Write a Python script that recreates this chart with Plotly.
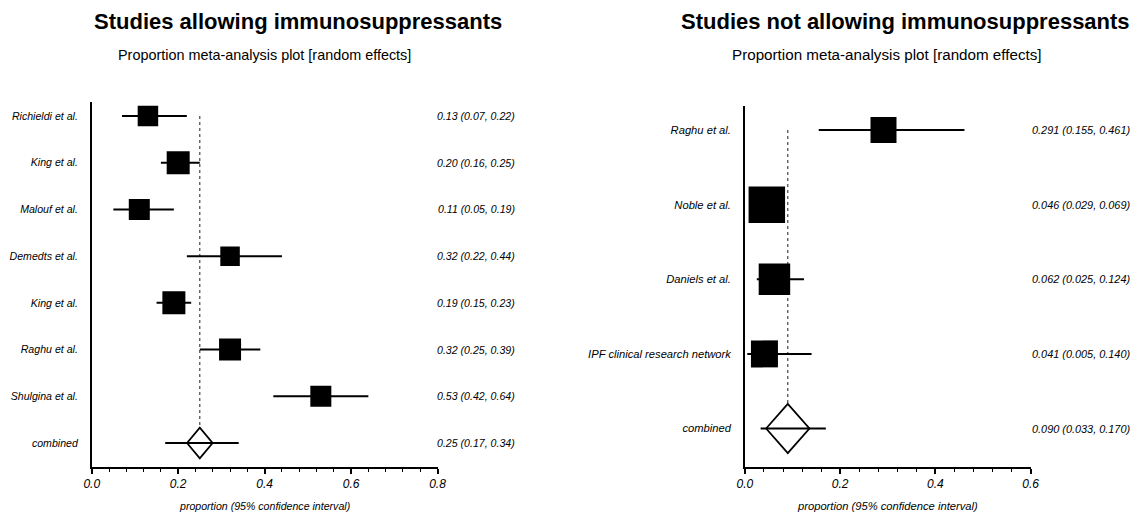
import plotly.graph_objects as go

# ---------------- data ----------------
left_studies = ["Richieldi et al.", "King et al.", "Malouf et al.", "Demedts et al.",
                "King et al.", "Raghu et al.", "Shulgina et al."]
left_prop = [0.13, 0.20, 0.11, 0.32, 0.19, 0.32, 0.53]
left_lo = [0.07, 0.16, 0.05, 0.22, 0.15, 0.25, 0.42]
left_hi = [0.22, 0.25, 0.19, 0.44, 0.23, 0.39, 0.64]
left_combined = [0.25, 0.17, 0.34]

right_studies = ["Raghu et al.", "Noble et al.", "Daniels et al.", "IPF clinical research network"]
right_prop = [0.291, 0.046, 0.062, 0.041]
right_lo = [0.155, 0.029, 0.025, 0.005]
right_hi = [0.461, 0.069, 0.124, 0.140]
right_combined = [0.090, 0.033, 0.170]

left_ticks = [0.0, 0.2, 0.4, 0.6, 0.8]
right_ticks = [0.0, 0.2, 0.4, 0.6]

# ---------------- style ----------------
W, H = 1148, 513
LEFT_BOX_PX = [20.5, 23, 21, 19.5, 23, 22, 21]
RIGHT_BOX_PX = [26, 36.5, 31.5, 27]
SANS = "Liberation Sans, Arial, Helvetica, sans-serif"
DIAMOND_DH = 0.33

fig = go.Figure()


def panel(xa, ya, studies, prop, lo, hi, sizes, comb, hw):
    n = len(studies)
    rows = list(range(1, n + 1))
    crow = n + 1
    # dotted pooled-estimate line
    fig.add_trace(go.Scatter(x=[comb[0], comb[0]], y=[1, crow - DIAMOND_DH], mode="lines",
                             line=dict(color="#333333", width=1.1, dash="dot"),
                             xaxis=xa, yaxis=ya, hoverinfo="skip", showlegend=False))
    # confidence interval lines
    xs, ys = [], []
    for r, l, h in zip(rows, lo, hi):
        xs += [l, h, None]
        ys += [r, r, None]
    xs += [comb[1], comb[2]]
    ys += [crow, crow]
    fig.add_trace(go.Scatter(x=xs, y=ys, mode="lines", line=dict(color="black", width=2),
                             xaxis=xa, yaxis=ya, hoverinfo="skip", showlegend=False))
    # boxes
    fig.add_trace(go.Scatter(x=prop, y=rows, mode="markers",
                             marker=dict(symbol="square", size=sizes, color="black", opacity=1,
                                         line=dict(width=0)),
                             xaxis=xa, yaxis=ya, showlegend=False))
    # diamond
    c = comb[0]
    fig.add_trace(go.Scatter(x=[c - hw, c, c + hw, c, c - hw],
                             y=[crow, crow - DIAMOND_DH, crow, crow + DIAMOND_DH, crow],
                             mode="lines", line=dict(color="black", width=1.8),
                             xaxis=xa, yaxis=ya, hoverinfo="skip", showlegend=False))
    return rows + [crow]


lrows = panel("x", "y", left_studies, left_prop, left_lo, left_hi, LEFT_BOX_PX, left_combined, 0.0296)
rrows = panel("x2", "y2", right_studies, right_prop, right_lo, right_hi, RIGHT_BOX_PX, right_combined, 0.0455)

ann = []
# value labels
for r, p, l, h in zip(lrows, left_prop + [left_combined[0]], left_lo + [left_combined[1]],
                      left_hi + [left_combined[2]]):
    ann.append(dict(x=517 / W, xref="paper", y=r, yref="y", xanchor="right", yanchor="middle",
                    text=f"{p:.2f} ({l:.2f}, {h:.2f})", showarrow=False,
                    font=dict(family=SANS, size=10.6, color="black", style="italic")))
for r, p, l, h in zip(rrows, right_prop + [right_combined[0]], right_lo + [right_combined[1]],
                      right_hi + [right_combined[2]]):
    ann.append(dict(x=1141 / W, xref="paper", y=r, yref="y2", xanchor="right", yanchor="middle",
                    text=f"{p:.3f} ({l:.3f}, {h:.3f})", showarrow=False,
                    font=dict(family=SANS, size=10.9, color="black", style="italic")))

# titles
for cx, txt in [(294, "Studies allowing immunosuppressants"), (911, "Studies not allowing immunosuppressants")]:
    ann.append(dict(x=cx / W, y=1 - 21 / H, xref="paper", yref="paper", xanchor="center", yanchor="middle",
                    text=txt, showarrow=False,
                    font=dict(family=SANS, size=22, color="black", weight="bold")))
for cx, fs in [(260, 14.4), (892, 15.2)]:
    ann.append(dict(x=cx / W, y=1 - 55 / H, xref="paper", yref="paper", xanchor="center", yanchor="middle",
                    text="Proportion meta-analysis plot [random effects]", showarrow=False,
                    font=dict(family=SANS, size=fs, color="black")))
for cx, fs in [(260.5, 10.6), (893, 11.2)]:
    ann.append(dict(x=cx / W, y=1 - 506 / H, xref="paper", yref="paper", xanchor="center", yanchor="middle",
                    text="proportion (95% confidence interval)", showarrow=False,
                    font=dict(family=SANS, size=fs, color="black", style="italic")))


def xaxis(dom, rng, ticks, anchor):
    return dict(domain=dom, range=rng, anchor=anchor, showline=True, linecolor="black", linewidth=1.5,
                ticks="outside", ticklen=5, tickwidth=1.5, tickcolor="black",
                tickvals=ticks, tickformat=".1f", showgrid=False, zeroline=False,
                minor=dict(dtick=0.04, tick0=0, ticks="outside", ticklen=3, tickwidth=1.2,
                           tickcolor="black", showgrid=False),
                tickfont=dict(family=SANS, size=12, color="black", style="italic"))


def yaxis(dom, rng, rows, labels, anchor, size):
    return dict(domain=dom, range=rng, anchor=anchor, showline=True, linecolor="black", linewidth=1.5,
                ticks="", showgrid=False, zeroline=False, tickvals=rows, ticktext=labels,
                ticklabelstandoff=10,
                tickfont=dict(family=SANS, size=size, color="black", style="italic"))


fig.update_layout(
    width=W, height=H, margin=dict(l=0, r=0, t=0, b=0),
    paper_bgcolor="white", plot_bgcolor="white", showlegend=False,
    xaxis=xaxis([85 / W, 436 / W], [0, 0.8], left_ticks, "y"),
    yaxis=yaxis([1 - 467 / H, 1 - 102 / H], [8.514, 0.700], lrows, left_studies + ["combined"], "x", 10.6),
    xaxis2=xaxis([748 / W, 1038 / W], [0, 0.6], right_ticks, "y2"),
    yaxis2=yaxis([1 - 467 / H, 1 - 106 / H], [5.516, 0.678], rrows, right_studies + ["combined"], "x2", 11.2),
    annotations=ann,
)

fig.write_html("out.html")
